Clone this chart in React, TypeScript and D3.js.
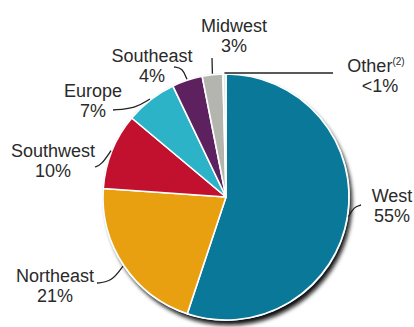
import React from "react";
import * as d3 from "d3";

// ---- data ----
const categories = ["West", "Northeast", "Southwest", "Europe", "Southeast", "Midwest", "Other"];
const shares = [55.1, 21.0, 10.0, 6.8, 4.0, 2.7, 0.4];
const shareLabels = ["55%", "21%", "10%", "7%", "4%", "3%", "<1%"];
const colors = ["#0a7898", "#e9a010", "#c2112f", "#2cb3c7", "#5d2160", "#b3b5ae", "#dfe6e8"];

// ---- layout (label anchors and leader elbows) ----
const W = 414, H = 327;
const CX = 226, CY = 197, R = 123;
const labelLayout: Record<string, { x: number; y: number; path: [number, number][] }> = {
  West: { x: 392, y: 202, path: [[354, 206], [361, 205]] },
  Northeast: { x: 55, y: 282, path: [[112, 283], [97, 283]] },
  Southwest: { x: 53, y: 157, path: [[101, 166], [95, 167]] },
  Europe: { x: 93, y: 97, path: [[136, 109], [113, 110]] },
  Southeast: { x: 152, y: 62, path: [[183, 67], [174, 67]] },
  Midwest: { x: 234, y: 32, path: [[212, 58]] },
  Other: { x: 376, y: 72, path: [[333, 73]] },
};

export default function App() {
  const pie = d3
    .pie<number>()
    .sort(null)
    .value((d) => d)
    .startAngle(0)
    .endAngle(2 * Math.PI);
  const arcs = pie(shares);
  const arc = d3.arc<d3.PieArcDatum<number>>().innerRadius(0).outerRadius(R);

  return (
    <svg
      width={W}
      height={H}
      style={{ position: "absolute", left: 0, top: 0, background: "#fff" }}
      fontFamily="'Liberation Sans', Arial, sans-serif"
    >
      <defs>
        <filter id="shadow" x="-20%" y="-20%" width="140%" height="140%">
          <feGaussianBlur stdDeviation="2.2" />
        </filter>
      </defs>
      <circle cx={CX + 3} cy={CY + 5} r={R} fill="#0a0a0a" filter="url(#shadow)" />
      <circle cx={CX} cy={CY} r={R + 1} fill="#cfeef6" />
      <g transform={`translate(${CX},${CY})`}>
        {arcs.map((a, i) => (
          <path key={categories[i]} d={arc(a) || ""} fill={colors[i]} stroke="#fff" strokeWidth={1.6} strokeLinejoin="round" />
        ))}
      </g>
      {arcs.map((a, i) => {
        const name = categories[i];
        const lay = labelLayout[name];
        const mid = (a.startAngle + a.endAngle) / 2;
        const ex = CX + Math.sin(mid) * (R + 1);
        const ey = CY - Math.cos(mid) * (R + 1);
        const pts: [number, number][] = [[ex, ey], ...lay.path];
        const line = d3.line().curve(d3.curveBundle.beta(0.85))(pts) || "";
        return (
          <g key={"lab" + name}>
            <path d={line} fill="none" stroke="#222" strokeWidth={1.3} />
            <text x={lay.x} y={lay.y} textAnchor="middle" fontSize={18} fill="#2a2a2a">
              {name}
              {name === "Other" ? (
                <tspan fontSize={10} dy={-7}>(2)</tspan>
              ) : null}
            </text>
            <text x={name === "Other" ? 380 : lay.x} y={lay.y + 20} textAnchor="middle" fontSize={18} fill="#2a2a2a">
              {shareLabels[i]}
            </text>
          </g>
        );
      })}
    </svg>
  );
}
